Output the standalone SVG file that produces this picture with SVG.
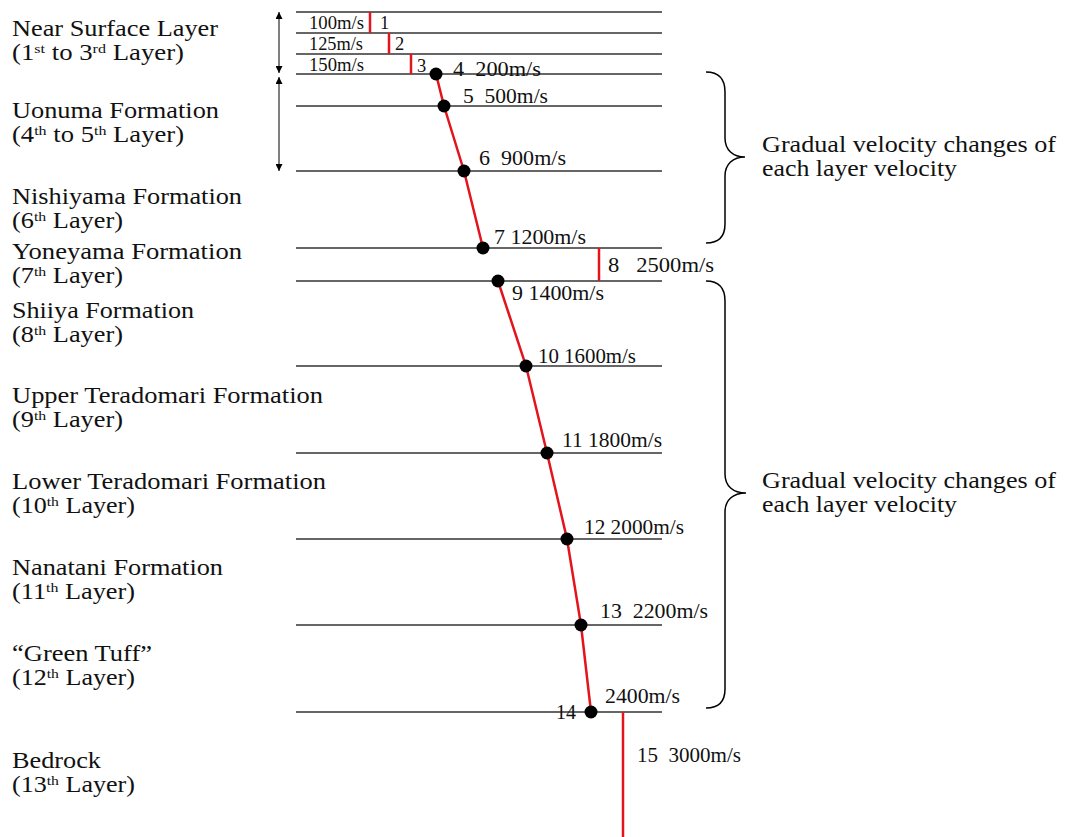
<svg xmlns="http://www.w3.org/2000/svg" width="1067" height="837" viewBox="0 0 1067 837">
<defs>
<marker id="ah" viewBox="0 0 10 10" refX="10" refY="5" markerWidth="7" markerHeight="7" markerUnits="userSpaceOnUse" orient="auto-start-reverse">
<path d="M0,0 L10,5 L0,10 z" fill="#000"/>
</marker>
</defs>
<style>
text{font-family:"Liberation Serif","Times New Roman",serif;fill:#111}
.big{font-size:22.5px}
.vel{font-size:21px}
.sm{font-size:18.5px}
.sup{font-size:13.5px}
.hl{stroke:#333;stroke-width:1.5}
.red{stroke:#e3141b;stroke-width:2.5;fill:none}
.dot{fill:#000}
.brace{fill:none;stroke:#000;stroke-width:1.5}
.arr{stroke:#000;stroke-width:1}
</style>
<rect width="1067" height="837" fill="#fff"/>

<g id="layer-lines">
<line class="hl" x1="296" y1="12" x2="662" y2="12"/>
<line class="hl" x1="296" y1="33" x2="662" y2="33"/>
<line class="hl" x1="296" y1="54" x2="662" y2="54"/>
<line class="hl" x1="296" y1="74" x2="662" y2="74"/>
<line class="hl" x1="296" y1="106" x2="662" y2="106"/>
<line class="hl" x1="296" y1="171" x2="662" y2="171"/>
<line class="hl" x1="296" y1="248" x2="662" y2="248"/>
<line class="hl" x1="296" y1="281" x2="662" y2="281"/>
<line class="hl" x1="296" y1="366" x2="662" y2="366"/>
<line class="hl" x1="296" y1="453" x2="662" y2="453"/>
<line class="hl" x1="296" y1="539" x2="662" y2="539"/>
<line class="hl" x1="296" y1="625" x2="662" y2="625"/>
<line class="hl" x1="296" y1="712" x2="662" y2="712"/>
</g>

<g id="connectors">
<line class="red" x1="370" y1="12" x2="370" y2="33"/>
<line class="red" x1="389" y1="33" x2="389" y2="54"/>
<line class="red" x1="411" y1="54" x2="411" y2="74"/>
<polyline class="red" points="436,74 444,106 464,171 483,248"/>
<line class="red" x1="599" y1="248" x2="599" y2="281"/>
<polyline class="red" points="498,281 526,366 547,453 567,539 581,625 591,712"/>
<line class="red" x1="623" y1="712" x2="623" y2="837"/>
<line class="arr" x1="279" y1="12" x2="279" y2="73" marker-start="url(#ah)" marker-end="url(#ah)"/>
<line class="arr" x1="279" y1="77" x2="279" y2="171" marker-start="url(#ah)" marker-end="url(#ah)"/>
<path class="brace" d="M706,72 C718,72 725,78 725,92 L725,138 C725,150 733,157 745,157 C733,157 725,164 725,176 L725,224 C725,237 718,243 706,243"/>
<path class="brace" d="M706,281 C718,281 725,287 725,301 L725,474 C725,486 733,493 746,493 C733,493 725,500 725,512 L725,689 C725,702 718,708 706,708"/>
</g>

<g id="dots">
<circle class="dot" cx="436" cy="74" r="6.5"/>
<circle class="dot" cx="444" cy="106" r="6.5"/>
<circle class="dot" cx="464" cy="171" r="6.5"/>
<circle class="dot" cx="483" cy="248" r="6.5"/>
<circle class="dot" cx="498" cy="281" r="6.5"/>
<circle class="dot" cx="526" cy="366" r="6.5"/>
<circle class="dot" cx="547" cy="453" r="6.5"/>
<circle class="dot" cx="567" cy="539" r="6.5"/>
<circle class="dot" cx="581" cy="625" r="6.5"/>
<circle class="dot" cx="591" cy="712" r="6.5"/>
</g>

<g id="velocity-labels">
<text class="sm" x="309" y="29" textLength="55" lengthAdjust="spacingAndGlyphs">100m/s</text>
<text class="sm" x="380" y="29">1</text>
<text class="sm" x="309" y="50" textLength="54" lengthAdjust="spacingAndGlyphs">125m/s</text>
<text class="sm" x="395" y="50">2</text>
<text class="sm" x="309" y="71" textLength="55" lengthAdjust="spacingAndGlyphs">150m/s</text>
<text class="sm" x="417" y="72">3</text>
<text class="vel" x="453" y="76" xml:space="preserve" textLength="88" lengthAdjust="spacingAndGlyphs">4  200m/s</text>
<text class="vel" x="463" y="103" xml:space="preserve" textLength="85" lengthAdjust="spacingAndGlyphs">5  500m/s</text>
<text class="vel" x="479" y="165" xml:space="preserve" textLength="87" lengthAdjust="spacingAndGlyphs">6  900m/s</text>
<text class="vel" x="494" y="244" textLength="92" lengthAdjust="spacingAndGlyphs">7 1200m/s</text>
<text class="vel" x="608" y="272" xml:space="preserve" textLength="106" lengthAdjust="spacingAndGlyphs">8   2500m/s</text>
<text class="vel" x="512" y="300" textLength="92" lengthAdjust="spacingAndGlyphs">9 1400m/s</text>
<text class="vel" x="538" y="363" textLength="98" lengthAdjust="spacingAndGlyphs">10 1600m/s</text>
<text class="vel" x="562" y="447" textLength="100" lengthAdjust="spacingAndGlyphs">11 1800m/s</text>
<text class="vel" x="584" y="534" textLength="100" lengthAdjust="spacingAndGlyphs">12 2000m/s</text>
<text class="vel" x="600" y="618" xml:space="preserve" textLength="108" lengthAdjust="spacingAndGlyphs">13  2200m/s</text>
<text class="vel" x="556" y="719" textLength="20" lengthAdjust="spacingAndGlyphs">14</text>
<text class="vel" x="605" y="703" textLength="75" lengthAdjust="spacingAndGlyphs">2400m/s</text>
<text class="vel" x="637" y="762" xml:space="preserve" textLength="104" lengthAdjust="spacingAndGlyphs">15  3000m/s</text>
</g>

<g id="layer-names">
<text class="big" x="12" y="36" textLength="206" lengthAdjust="spacingAndGlyphs">Near Surface Layer</text>
<text class="big" x="12" y="60" textLength="172" lengthAdjust="spacingAndGlyphs">(1<tspan class="sup" dy="-7">st</tspan><tspan dy="7"> to 3</tspan><tspan class="sup" dy="-7">rd</tspan><tspan dy="7"> Layer)</tspan></text>
<text class="big" x="12" y="118" textLength="207" lengthAdjust="spacingAndGlyphs">Uonuma Formation</text>
<text class="big" x="12" y="142" textLength="172" lengthAdjust="spacingAndGlyphs">(4<tspan class="sup" dy="-7">th</tspan><tspan dy="7"> to 5</tspan><tspan class="sup" dy="-7">th</tspan><tspan dy="7"> Layer)</tspan></text>
<text class="big" x="12" y="204" textLength="230" lengthAdjust="spacingAndGlyphs">Nishiyama Formation</text>
<text class="big" x="12" y="228" textLength="111" lengthAdjust="spacingAndGlyphs">(6<tspan class="sup" dy="-7">th</tspan><tspan dy="7"> Layer)</tspan></text>
<text class="big" x="12" y="259" textLength="230" lengthAdjust="spacingAndGlyphs">Yoneyama Formation</text>
<text class="big" x="12" y="283" textLength="111" lengthAdjust="spacingAndGlyphs">(7<tspan class="sup" dy="-7">th</tspan><tspan dy="7"> Layer)</tspan></text>
<text class="big" x="12" y="318" textLength="182" lengthAdjust="spacingAndGlyphs">Shiiya Formation</text>
<text class="big" x="12" y="342" textLength="111" lengthAdjust="spacingAndGlyphs">(8<tspan class="sup" dy="-7">th</tspan><tspan dy="7"> Layer)</tspan></text>
<text class="big" x="12" y="403" textLength="311" lengthAdjust="spacingAndGlyphs">Upper Teradomari Formation</text>
<text class="big" x="12" y="427" textLength="111" lengthAdjust="spacingAndGlyphs">(9<tspan class="sup" dy="-7">th</tspan><tspan dy="7"> Layer)</tspan></text>
<text class="big" x="12" y="489" textLength="314" lengthAdjust="spacingAndGlyphs">Lower Teradomari Formation</text>
<text class="big" x="12" y="513" textLength="123" lengthAdjust="spacingAndGlyphs">(10<tspan class="sup" dy="-7">th</tspan><tspan dy="7"> Layer)</tspan></text>
<text class="big" x="12" y="575" textLength="211" lengthAdjust="spacingAndGlyphs">Nanatani Formation</text>
<text class="big" x="12" y="599" textLength="123" lengthAdjust="spacingAndGlyphs">(11<tspan class="sup" dy="-7">th</tspan><tspan dy="7"> Layer)</tspan></text>
<text class="big" x="12" y="661" textLength="140" lengthAdjust="spacingAndGlyphs">“Green Tuff”</text>
<text class="big" x="12" y="685" textLength="123" lengthAdjust="spacingAndGlyphs">(12<tspan class="sup" dy="-7">th</tspan><tspan dy="7"> Layer)</tspan></text>
<text class="big" x="12" y="768" textLength="89" lengthAdjust="spacingAndGlyphs">Bedrock</text>
<text class="big" x="12" y="792" textLength="123" lengthAdjust="spacingAndGlyphs">(13<tspan class="sup" dy="-7">th</tspan><tspan dy="7"> Layer)</tspan></text>
</g>

<g id="brace-labels">
<text class="big" x="762" y="152" textLength="294" lengthAdjust="spacingAndGlyphs">Gradual velocity changes of</text>
<text class="big" x="762" y="176" textLength="195" lengthAdjust="spacingAndGlyphs">each layer velocity</text>
<text class="big" x="762" y="488" textLength="294" lengthAdjust="spacingAndGlyphs">Gradual velocity changes of</text>
<text class="big" x="762" y="512" textLength="195" lengthAdjust="spacingAndGlyphs">each layer velocity</text>
</g>
</svg>
